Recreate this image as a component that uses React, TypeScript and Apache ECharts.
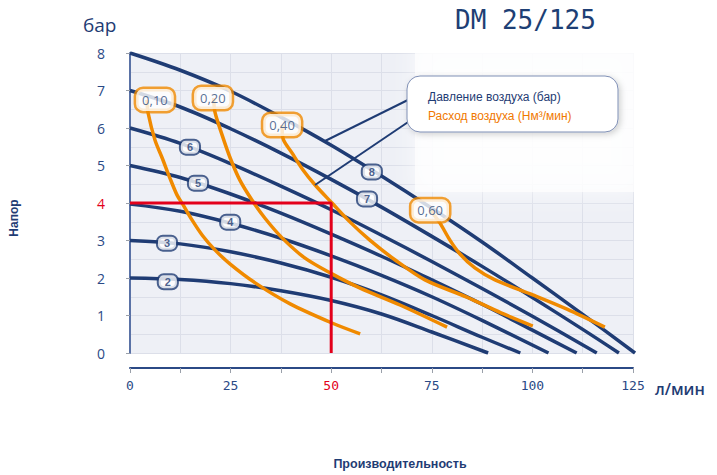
import React, { useEffect, useRef } from "react";
import * as echarts from "echarts";

const NAVY = "#1f3c74";
const AXIS_BLUE = "#2b4a86";
const ORANGE = "#f08a00";
const RED = "#e3001b";

// tick labels
const xLabelValues = [0, 25, 50, 75, 100, 125];
const yLabelValues = [0, 1, 2, 3, 4, 5, 6, 7, 8];

// Air pressure curves (bar): [flow l/min, head bar]
const air2 = [[0, 2.0], [12.5, 1.96], [25, 1.85], [37.5, 1.66], [50, 1.4], [62.5, 1.04], [75, 0.56], [89, 0]];
const air3 = [[0, 3.0], [12.5, 2.91], [25, 2.7], [37.5, 2.4], [50, 2.02], [62.5, 1.55], [75, 1.0], [87.5, 0.42], [97, 0]];
const air4 = [[0, 3.97], [12.5, 3.78], [25, 3.46], [37.5, 3.06], [50, 2.59], [62.5, 2.07], [75, 1.5], [87.5, 0.87], [104, 0]];
const air5 = [[0, 5.0], [12.5, 4.68], [25, 4.24], [37.5, 3.73], [50, 3.17], [62.5, 2.58], [75, 1.95], [87.5, 1.3], [100, 0.61], [111, 0]];
const air6 = [[0, 6.0], [12.5, 5.59], [25, 5.05], [37.5, 4.45], [50, 3.82], [62.5, 3.14], [75, 2.44], [87.5, 1.72], [100, 0.98], [116, 0]];
const air7 = [[0, 7.0], [12.5, 6.56], [25, 5.98], [37.5, 5.33], [50, 4.63], [62.5, 3.89], [75, 3.11], [87.5, 2.31], [100, 1.48], [112.5, 0.63], [121.5, 0]];
const air8 = [[0, 8.0], [12.5, 7.54], [25, 6.98], [37.5, 6.29], [50, 5.54], [62.5, 4.72], [75, 3.86], [87.5, 2.96], [100, 2.0], [112.5, 1.03], [125.5, 0]];

// Air consumption curves (Nm3/min)
const cons010 = [[4.2, 6.75], [4.5, 6.4], [6.2, 5.68], [8.0, 5.2], [9.9, 4.67], [11.7, 4.21], [13.2, 3.95], [15.4, 3.55], [18.1, 3.12], [21.1, 2.75], [24.9, 2.37], [31.1, 1.87], [39.8, 1.31], [50.2, 0.8], [57.2, 0.51]];
const cons020 = [[20.8, 6.8], [21.1, 6.43], [22.9, 5.81], [24.9, 5.2], [27.3, 4.61], [30.3, 4.08], [33.5, 3.6], [37.8, 3.07], [43.5, 2.53], [50.2, 2.11], [57.2, 1.73], [67.1, 1.28], [78.8, 0.69]];
const cons040 = [[37.8, 6.08], [38.0, 5.73], [40.3, 5.33], [43.0, 4.88], [46.0, 4.48], [50.2, 4.0], [54.7, 3.49], [59.6, 3.01], [65.9, 2.48], [73.3, 1.95], [83.7, 1.49], [92.2, 1.07], [100.1, 0.72]];
const cons060 = [[74.6, 3.81], [77.0, 3.47], [79.5, 3.01], [82.0, 2.64], [85.7, 2.27], [90.7, 1.95], [100.1, 1.55], [108.6, 1.17], [118.0, 0.69]];

// Operating point
const operatingPath = [[0, 4], [50, 4], [50, 0]];

// Curve labels
const pressureLabels = [[9.4, 1.9, "2"], [9.2, 2.93, "3"], [24.9, 3.49, "4"], [16.9, 4.53, "5"], [14.9, 5.49, "6"], [58.9, 4.11, "7"], [60.1, 4.83, "8"]];
const flowLabels = [[6.2, 6.75, "0,10"], [20.6, 6.8, "0,20"], [37.8, 6.08, "0,40"], [74.6, 3.81, "0,60"]];

const pressureCurves = [air2, air3, air4, air5, air6, air7, air8];
const flowCurves = [cons010, cons020, cons040, cons060];

export default function App() {
  const ref = useRef<HTMLDivElement>(null);
  useEffect(() => {
    if (!ref.current) return;
    const chart = echarts.init(ref.current, null, { renderer: "svg" });
    const series: any[] = [];
    pressureCurves.forEach((d, i) => {
      series.push({
        type: "line", name: "air" + (i + 2), data: d, smooth: 0.35, symbol: "none",
        lineStyle: { color: NAVY, width: 3.5 }, z: 3, silent: true,
      });
    });
    flowCurves.forEach((d, i) => {
      series.push({
        type: "line", name: "flow" + i, data: d, smooth: 0.3, symbol: "none",
        lineStyle: { color: ORANGE, width: 3.5 }, z: 4, silent: true,
      });
    });
    series.push({
      type: "line", name: "op", data: operatingPath, symbol: "none",
      lineStyle: { color: RED, width: 3 }, z: 5, silent: true,
    });
    series.push({
      type: "scatter", name: "plabels", data: pressureLabels, symbolSize: 0, z: 10, silent: true,
      label: {
        show: true, position: "inside", formatter: (p: any) => p.data[2],
        backgroundColor: "#ffffff", borderColor: NAVY, borderWidth: 2, borderRadius: 5,
        padding: [1, 6, 0, 6], color: NAVY, fontWeight: "bold", fontSize: 11,
        fontFamily: "Liberation Sans", lineHeight: 12,
      },
    });
    series.push({
      type: "scatter", name: "flabels", data: flowLabels, symbolSize: 0, z: 11, silent: true,
      label: {
        show: true, position: "inside", formatter: (p: any) => p.data[2],
        backgroundColor: "#ffffff", borderColor: ORANGE, borderWidth: 2.5, borderRadius: 7,
        padding: [4, 6, 3, 6], color: "#2d4a7a", fontSize: 13,
        fontFamily: "Open Sans", lineHeight: 15,
      },
    });

    const option: any = {
      animation: false,
      grid: { left: 130, right: 84, top: 53, bottom: 122, show: true, backgroundColor: "#eef0f6", borderWidth: 0 },
      xAxis: {
        type: "value", min: 0, max: 125, interval: 12.5, offset: 15,
        axisLine: { show: true, onZero: false, lineStyle: { color: AXIS_BLUE, width: 2 } },
        axisTick: { show: true, length: 5, lineStyle: { color: "#9aa0aa", width: 1 } },
        axisLabel: {
          margin: 11, fontFamily: "DejaVu Sans Mono", fontSize: 13,
          color: (v: any) => (Number(v) === 50 ? RED : AXIS_BLUE),
          formatter: (v: number) => (xLabelValues.includes(v) ? String(v) : ""),
        },
        splitLine: { show: true, lineStyle: { color: "#dcdfe9", width: 1 } },
      },
      yAxis: {
        type: "value", min: 0, max: 8, interval: 1, offset: 14,
        axisLine: { show: true, lineStyle: { color: "#5a72a6", width: 2 } },
        axisTick: { show: true, length: 4, lineStyle: { color: "#9aa0aa", width: 1 } },
        axisLabel: {
          margin: 11, fontFamily: "Open Sans", fontSize: 14,
          color: (v: any) => (Number(v) === 4 ? RED : AXIS_BLUE),
          formatter: (v: number) => (yLabelValues.includes(v) ? String(v) : ""),
        },
        splitLine: { show: true, lineStyle: { color: "#dcdfe9", width: 1 } },
        minorTick: { show: false, splitNumber: 2 },
        minorSplitLine: { show: true, lineStyle: { color: "#dcdfe9", width: 1 } },
      },
      graphic: [
        {
          type: "rect", z: 1, silent: true,
          shape: { x: 415, y: 40, width: 225, height: 152 },
          style: { fill: "rgba(255,255,255,0.72)", shadowBlur: 24, shadowColor: "rgba(255,255,255,0.95)" },
        },
        {
          type: "text", z: 20, style: { text: "бар", x: 83, y: 25, textVerticalAlign: "middle", font: "19px 'Open Sans'", fill: NAVY },
        },
        {
          type: "text", z: 20, style: { text: "DM 25/125", x: 455, y: 20, textVerticalAlign: "middle", font: "26px 'DejaVu Sans Mono'", fill: "#1e3f75" },
        },
        {
          type: "text", z: 20, style: { text: "л/мин", x: 655, y: 389, textVerticalAlign: "middle", font: "600 16px 'Open Sans'", fill: NAVY },
        },
        {
          type: "text", z: 20, x: 14, y: 218, rotation: Math.PI / 2,
          style: { text: "Напор", x: 0, y: 0, textAlign: "center", textVerticalAlign: "middle", font: "bold 12px 'Liberation Sans'", fill: NAVY },
        },
        {
          type: "text", z: 20, style: { text: "Производительность", x: 400, y: 464, textAlign: "center", textVerticalAlign: "middle", font: "bold 12.5px 'Liberation Sans'", fill: NAVY },
        },
        {
          type: "line", z: 20, shape: { x1: 325, y1: 141, x2: 420, y2: 94 }, style: { stroke: NAVY, lineWidth: 2 },
        },
        {
          type: "line", z: 20, shape: { x1: 315, y1: 185, x2: 420, y2: 114 }, style: { stroke: NAVY, lineWidth: 2 },
        },
        {
          type: "rect", z: 21,
          shape: { x: 407, y: 76, width: 211, height: 56, r: 13 },
          style: { fill: "#ffffff", stroke: "#7f8fb5", lineWidth: 1, shadowBlur: 6, shadowOffsetX: 2, shadowOffsetY: 2, shadowColor: "rgba(0,0,0,0.18)" },
        },
        {
          type: "text", z: 22, style: { text: "Давление воздуха (бар)", x: 428, y: 97, textVerticalAlign: "middle", font: "12px 'Liberation Sans'", fill: NAVY },
        },
        {
          type: "text", z: 22, style: { text: "Расход воздуха (Нм³/мин)", x: 428, y: 116, textVerticalAlign: "middle", font: "12px 'Liberation Sans'", fill: "#f07800" },
        },
      ],
      series,
    };
    chart.setOption(option);
    return () => chart.dispose();
  }, []);
  return <div ref={ref} style={{ position: "fixed", left: 0, top: 0, width: 717, height: 475, background: "#ffffff" }} />;
}
